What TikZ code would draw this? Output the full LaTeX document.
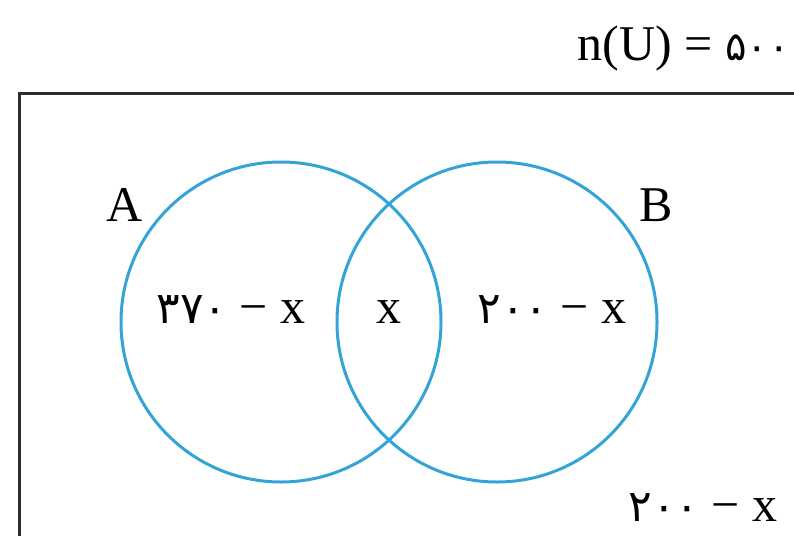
\documentclass[tikz,border=0pt]{standalone}
\usepackage{fontspec}
\setmainfont{Liberation Serif}
\newfontfamily\fa[Script=Arabic]{DejaVu Sans}
\definecolor{vennblue}{RGB}{52,164,214}
\definecolor{framegray}{RGB}{45,45,45}
\newcommand{\pdig}[1]{{\fontsize{44}{48}\selectfont\fa #1}}
\newcommand{\pdigs}[1]{{\fontsize{40}{44}\selectfont\fa #1}}
\begin{document}
\begin{tikzpicture}[x=1pt,y=-1pt,
  setc/.style={draw=vennblue,line width=3pt},
  lbl/.style={inner sep=0pt,font=\fontsize{50}{54}\selectfont},
  num/.style={inner sep=0pt,font=\fontsize{50}{54}\selectfont}]
\useasboundingbox (0,0) rectangle (794,535);
\clip (0,0) rectangle (794,535);
\draw[framegray,line width=3pt] (19,93) rectangle (820,560);
\node[setc,circle,minimum size=320pt,inner sep=0pt] (cA) at (281,322) {};
\node[setc,circle,minimum size=320pt,inner sep=0pt] (cB) at (497,322) {};
\node[lbl,anchor=base] (lA) at (125,221) {A};
\node[lbl,anchor=base] (lB) at (656,221) {B};
\node[num,anchor=base] (tA) at (231,323) {\pdig{۳۷۰} − x};
\node[num,anchor=base] (tAB) at (389,323) {x};
\node[num,anchor=base] (tB) at (552,323) {\pdig{۲۰۰} − x};
\node[num,anchor=base] (tU) at (703,521) {\pdig{۲۰۰} − x};
\node[num,anchor=base east] (nU) at (790,60) {n(U) = \pdigs{۵۰۰}};
\end{tikzpicture}
\end{document}
